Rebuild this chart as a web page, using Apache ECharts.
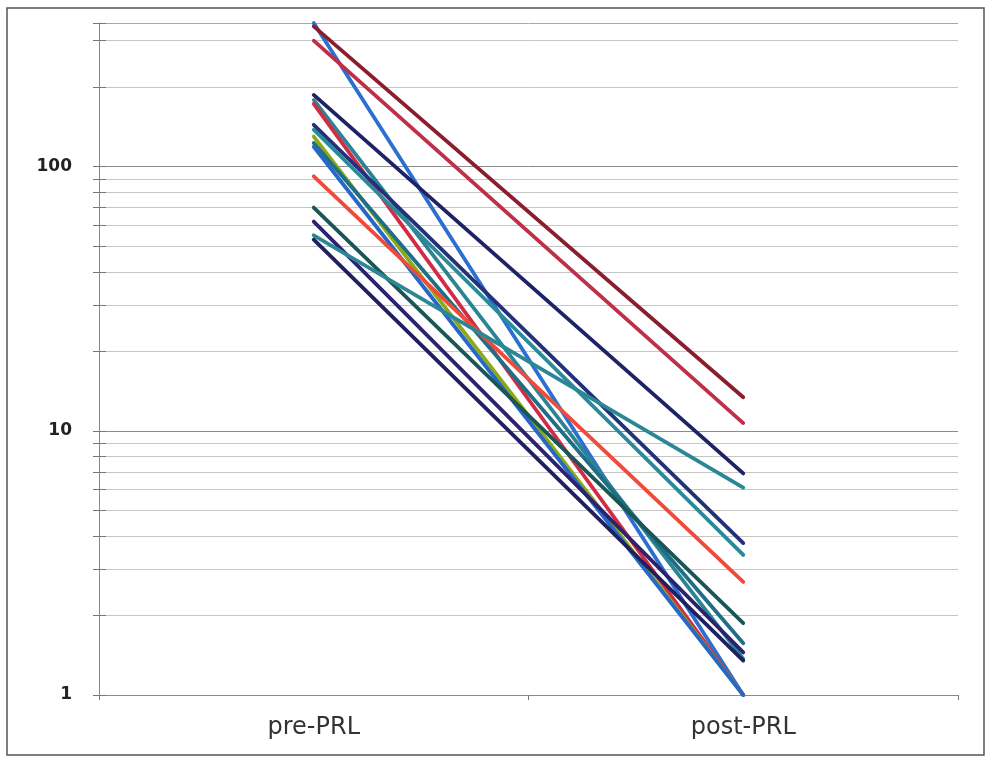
<!DOCTYPE html>
<html>
<head>
<meta charset="utf-8">
<script src="https://cdn.jsdelivr.net/npm/echarts@6/dist/echarts.min.js"></script>
<style>
html,body{margin:0;padding:0;background:#fff;}
#chart{width:989px;height:762px;}
</style>
</head>
<body>
<div id="chart"></div>
<script>
// ---- data ----
const categories = ['pre-PRL', 'post-PRL'];
const preValues  = [350, 340, 300, 187, 179, 173, 144, 138, 130, 123, 119, 92, 70, 62, 55, 53];
const postValues = [1, 13.4, 10.7, 6.9, 1.37, 1, 3.76, 3.39, 1, 1.57, 1, 2.68, 1.87, 1.45, 6.1, 1.35];
const majorTicks = [1, 10, 100];
const minorTicks = [2, 3, 4, 5, 6, 7, 8, 9, 20, 30, 40, 50, 60, 70, 80, 90, 200, 300];
const yMin = 1;
const yMax = 350;

// ---- styles ----
const lineColors = ['#2B6FD0', '#8B1E2E', '#BE3048', '#1E2266', '#2A8494', '#D22B45', '#23307A', '#2A8A9A',
                    '#8DAA14', '#1F6E86', '#2668C8', '#F04B3A', '#1B5656', '#2C2270', '#2B8796', '#202060'];

const chart = echarts.init(document.getElementById('chart'), null, {renderer: 'canvas'});

const dataSeries = preValues.map((v, i) => ({
  type: 'line',
  data: [v, postValues[i]],
  showSymbol: false,
  symbol: 'none',
  clip: false,
  silent: true,
  z: 3,
  lineStyle: {color: lineColors[i], width: 3.8, cap: 'round'}
}));

const gridLineData = [];
minorTicks.forEach(v => gridLineData.push({yAxis: v, lineStyle: {color: '#c6c6c6', width: 1, type: 'solid'}}));
[10, 100].forEach(v => gridLineData.push({yAxis: v, lineStyle: {color: '#8c8c8c', width: 1, type: 'solid'}}));
gridLineData.push({yAxis: yMax, lineStyle: {color: '#a8a8a8', width: 1, type: 'solid'}});
const tickData = majorTicks.concat(minorTicks, [yMax]).map(v => [
  {x: 93, yAxis: v, lineStyle: {color: '#777', width: 1, type: 'solid'}},
  {x: 106, yAxis: v}
]);

const helperSeries = {
  type: 'line',
  data: [],
  silent: true,
  z: 1,
  markLine: {
    silent: true,
    z: 1,
    symbol: ['none', 'none'],
    label: {show: false},
    lineStyle: {type: 'solid'},
    emphasis: {disabled: true},
    animation: false,
    data: gridLineData.concat(tickData)
  }
};

const option = {
  animation: false,
  backgroundColor: '#ffffff',
  grid: {left: 99, right: 31, top: 23, bottom: 67, containLabel: false},
  xAxis: {
    type: 'category',
    data: categories,
    boundaryGap: true,
    axisLine: {show: true, lineStyle: {color: '#8a8a8a', width: 1}},
    axisTick: {show: true, length: 5, inside: false, lineStyle: {color: '#777'}},
    axisLabel: {fontFamily: 'DejaVu Sans', fontSize: 24, color: '#333', margin: 21},
    splitLine: {show: false}
  },
  yAxis: {
    type: 'log',
    logBase: 10,
    min: yMin,
    max: yMax,
    axisLine: {show: true, lineStyle: {color: '#8a8a8a', width: 1}},
    axisTick: {show: false},
    splitLine: {show: false},
    axisLabel: {
      fontFamily: 'DejaVu Sans',
      fontWeight: 'bold',
      fontSize: 17,
      color: '#222',
      margin: 27,
      showMaxLabel: false,
      formatter: function (v) {
        const r = Math.round(v);
        return majorTicks.indexOf(r) >= 0 && Math.abs(v - r) < 1e-6 * r + 1e-6 ? String(r) : '';
      }
    }
  },
  graphic: [{
    type: 'rect',
    shape: {x: 7, y: 8, width: 977, height: 747},
    style: {fill: 'none', stroke: '#555', lineWidth: 1.5},
    silent: true,
    z: 0
  }],
  series: [helperSeries].concat(dataSeries)
};

chart.setOption(option);
</script>
</body>
</html>
